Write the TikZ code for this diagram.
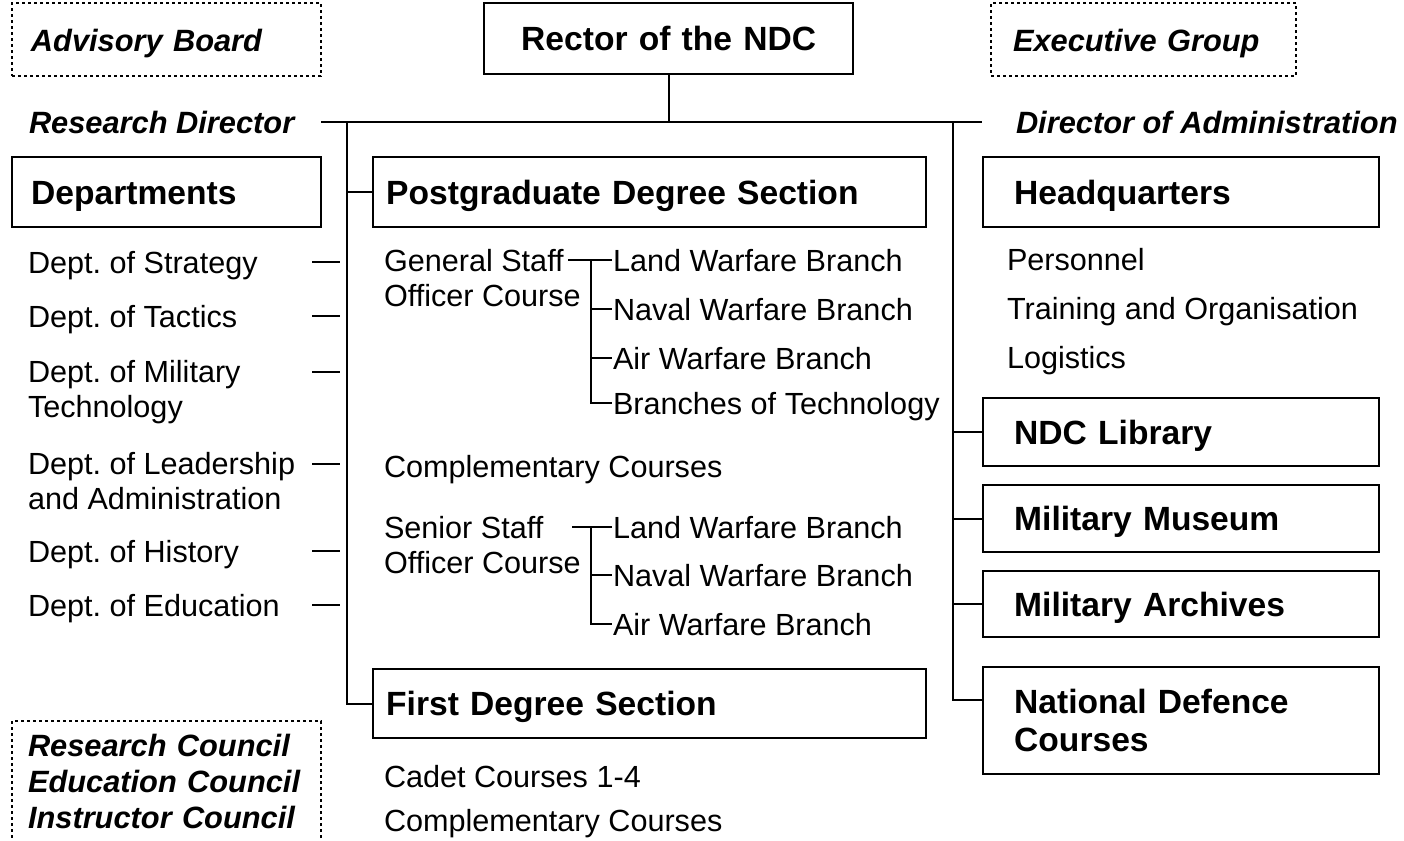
\documentclass[tikz,border=0pt]{standalone}
\usepackage{fontspec}
\setmainfont{Liberation Sans}
\usetikzlibrary{positioning}
\frenchspacing
\newcommand{\itemfont}{\fontsize{15.3pt}{17.5pt}\selectfont}
\newcommand{\boxfont}{\fontsize{16.8pt}{19pt}\selectfont\bfseries}
\newcommand{\headfont}{\fontsize{15.4pt}{18pt}\selectfont\bfseries\itshape}
\newcommand{\twig}[3]
{
	\draw (#2.west) ++(-#1,0) |- (#3.west)
}
\newcommand{\deptdash}[1]
{
	\draw (#1 -| dl) -- (#1 -| dr)
}

\begin{document}
\begin{tikzpicture}[x=0.5pt, y=-0.5pt,
every node/.append style={inner sep=0pt},
line width=1pt,
box/.style={draw, line width=1.2pt, anchor=north west, align=left, font=\boxfont},
dotbox/.style={draw, line width=1pt, dash pattern=on 1.5pt off 1.5pt, anchor=north west, align=left, font=\headfont},
onerow/.style={text height=12pt, text depth=0pt},
head/.style={anchor=west, font=\headfont, text height=11pt, text depth=0pt},
item/.style={anchor=west, font=\itemfont, text height=11pt, text depth=0pt},
items/.style={anchor=west, font=\itemfont, align=left}]

\useasboundingbox (0,0) rectangle (1404,841);

% top row
\node[dotbox, onerow, inner xsep=9.5pt, text width=135.5pt, minimum height=36.5pt] at (11,2) (advb){Advisory Board};
\node[box, onerow, align=center, text width=184.5pt, minimum height=35.5pt] at (483,2) (rector){Rector of the NDC};
\node[dotbox, onerow, inner xsep=11pt, text width=130.5pt, minimum height=36.5pt] at (990,2) (execg){Executive Group};

\node[head] at (28,122) (resdir){Research Director};
\node[head] at (1015,122) (admdir){Director of Administration};

% left column
\node[box, onerow, inner xsep=9.5pt, text width=135.5pt, minimum height=35pt] at (11,156) (dep){Departments};
\node[item] at (27,262) (strat){Dept. of Strategy};
\node[item] at (27,316) (tact){Dept. of Tactics};
\node[items] at (27,392) (mil){Dept. of Military\\Technology};
\node[items] at (27,481) (lead){Dept. of Leadership\\and Administration};
\node[item] at (27,551) (hist){Dept. of History};
\node[item] at (27,605) (edu){Dept. of Education};
\node[dotbox, inner xsep=8pt, text width=138.5pt, minimum height=66pt, text depth=42pt] at (11,720) (councils){Research Council\\Education Council\\Instructor Council};

% middle column
\node[box, onerow, inner xsep=6.5pt, text width=263.5pt, minimum height=35pt] at (372,156) (post){Postgraduate Degree Section};
\node[items] at (383,278) (gso){General Staff\\Officer Course};
\node[item] at (612,260) (gl1){Land Warfare Branch};
\node[item] at (612,309) (gl2){Naval Warfare Branch};
\node[item] at (612,358) (gl3){Air Warfare Branch};
\node[item] at (612,403) (gl4){Branches of Technology};
\node[item] at (383,466) (compa){Complementary Courses};
\node[items] at (383,545) (sso){Senior Staff\\Officer Course};
\node[item] at (612,527) (sl1){Land Warfare Branch};
\node[item] at (612,575) (sl2){Naval Warfare Branch};
\node[item] at (612,624) (sl3){Air Warfare Branch};
\node[box, onerow, inner xsep=6.5pt, text width=263.5pt, minimum height=34.5pt] at (372,668) (first){First Degree Section};
\node[item] at (383,776) (cadet){Cadet Courses 1-4};
\node[item] at (383,820) (compb){Complementary Courses};

% right column
\node[box, onerow, inner xsep=15.5pt, text width=167pt, minimum height=35pt] at (982,156) (hq){Headquarters};
\node[item] at (1006,259) (pers){Personnel};
\node[item] at (1006,308) (train){Training and Organisation};
\node[item] at (1006,357) (logi){Logistics};
\node[box, onerow, inner xsep=15.5pt, text width=167pt, minimum height=34pt] at (982,397) (lib){NDC Library};
\node[box, onerow, inner xsep=15.5pt, text width=167pt, minimum height=33.5pt] at (982,484) (mus){Military Museum};
\node[box, onerow, inner xsep=15.5pt, text width=167pt, minimum height=33pt] at (982,570) (arch){Military Archives};
\node[box, inner xsep=15.5pt, text width=167pt, minimum height=53.5pt] at (982,666) (ndcc){National Defence\\Courses};

% trunk lines
\coordinate (lt) at (347,122);
\coordinate (rt) at (953,122);
\coordinate (dl) at (312,0);
\coordinate (dr) at (340,0);
\coordinate (mild) at ([yshift=-6.5pt]mil.north);
\coordinate (leadd) at ([yshift=-6.5pt]lead.north);

\draw ([xshift=13pt]resdir.east) -- ([xshift=-16.5pt]admdir.west);
\draw (rector) -- (rector |- lt);
\draw (lt) |- (first.west);
\draw (lt |- post.west) -- (post.west);
\draw (rt) |- ([yshift=-17pt]ndcc.north west);
\draw (rt |- lib.west) -- (lib.west);
\draw (rt |- mus.west) -- (mus.west);
\draw (rt |- arch.west) -- (arch.west);

% departments
\deptdash{strat};
\deptdash{tact};
\deptdash{mild};
\deptdash{leadd};
\deptdash{hist};
\deptdash{edu};

% branches
\draw (gl1.west) -- ++(-44,0);
\twig{21}{gl1}{gl2};
\twig{21}{gl1}{gl3};
\twig{21}{gl1}{gl4};
\draw (sl1.west) -- ++(-40,0);
\twig{21}{sl1}{sl2};
\twig{21}{sl1}{sl3};
\end{tikzpicture}
\end{document}
